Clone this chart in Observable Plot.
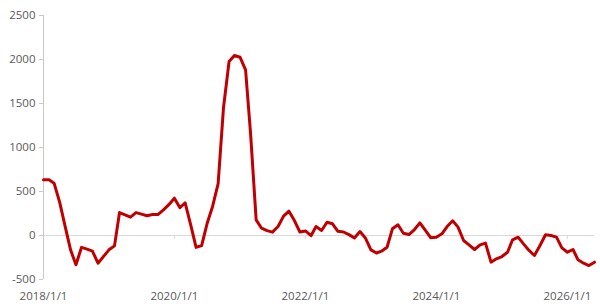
<!DOCTYPE html>
<html>
<head>
<meta charset="utf-8">
<script src="https://cdn.jsdelivr.net/npm/d3@7"></script>
<script src="https://cdn.jsdelivr.net/npm/@observablehq/plot@0.6"></script>
<style>
  html, body { margin: 0; padding: 0; background: #fff; }
  #chart svg { display: block; }
</style>
</head>
<body>
<div id="chart"></div>
<script>
// Monthly series starting 2018-01
const startYear = 2018;
const startMonth = 0;
const values = [
  633, 633, 595, 380, 110, -163, -333, -135, -155, -178, -315, -240,
  -163, -118, 261, 235, 208, 260, 243, 225, 238, 238, 292, 350,
  424, 315, 372, 120, -135, -114, 133, 330, 590, 1455, 1977, 2045,
  2026, 1883, 1155, 178, 83, 55, 38, 102, 220, 276, 167, 40,
  52, -2, 102, 57, 150, 133, 47, 40, 10, -28, 45, -28,
  -163, -199, -178, -133, 76, 122, 26, 11, 68, 144, 57, -26,
  -19, 19, 102, 167, 95, -57, -106, -159, -106, -87, -303, -265,
  -239, -190, -49, -19, -95, -170, -227, -114, 8, 0, -19, -140,
  -190, -159, -276, -315, -341, -303
];
const yTicks = [-500, 0, 500, 1000, 1500, 2000, 2500];
const xTickYears = [2018, 2020, 2022, 2024, 2026];

const data = values.map((v, i) => ({date: new Date(startYear, startMonth + i, 1), value: v}));
const xTicks = xTickYears.map(y => new Date(y, 0, 1));
const lastDate = data[data.length - 1].date;

const chart = Plot.plot({
  width: 600,
  height: 308,
  marginTop: 15,
  marginBottom: 29,
  marginLeft: 43,
  marginRight: 6,
  style: {fontFamily: "'Open Sans', sans-serif", fontSize: "11.5px", color: "#595959", background: "#fff"},
  x: {type: "time", domain: [new Date(startYear, startMonth, 1), lastDate]},
  y: {domain: [-500, 2500]},
  marks: [
    Plot.ruleY([0], {stroke: "#d9d9d9", strokeWidth: 1}),
    Plot.ruleX(xTicks.slice(1), {x: d => d, y1: 0, y2: -45, stroke: "#d9d9d9", strokeWidth: 1}),
    Plot.axisY({ticks: yTicks, tickSize: 4, tickPadding: 4, stroke: "#c8c8c8", strokeOpacity: 1, fill: "#595959", label: null, tickFormat: d => String(d)}),
    Plot.ruleX([0], {x: () => new Date(startYear, startMonth, 1), stroke: "#c8c8c8"}),
    Plot.axisX({ticks: xTicks, tickSize: 0, tickPadding: 12, fill: "#595959", label: null, tickFormat: d => `${d.getFullYear()}/1/1`}),
    Plot.lineY(data, {x: "date", y: "value", stroke: "#c00000", strokeWidth: 3, strokeLinejoin: "round"})
  ]
});
document.getElementById("chart").appendChild(chart);
</script>
</body>
</html>
